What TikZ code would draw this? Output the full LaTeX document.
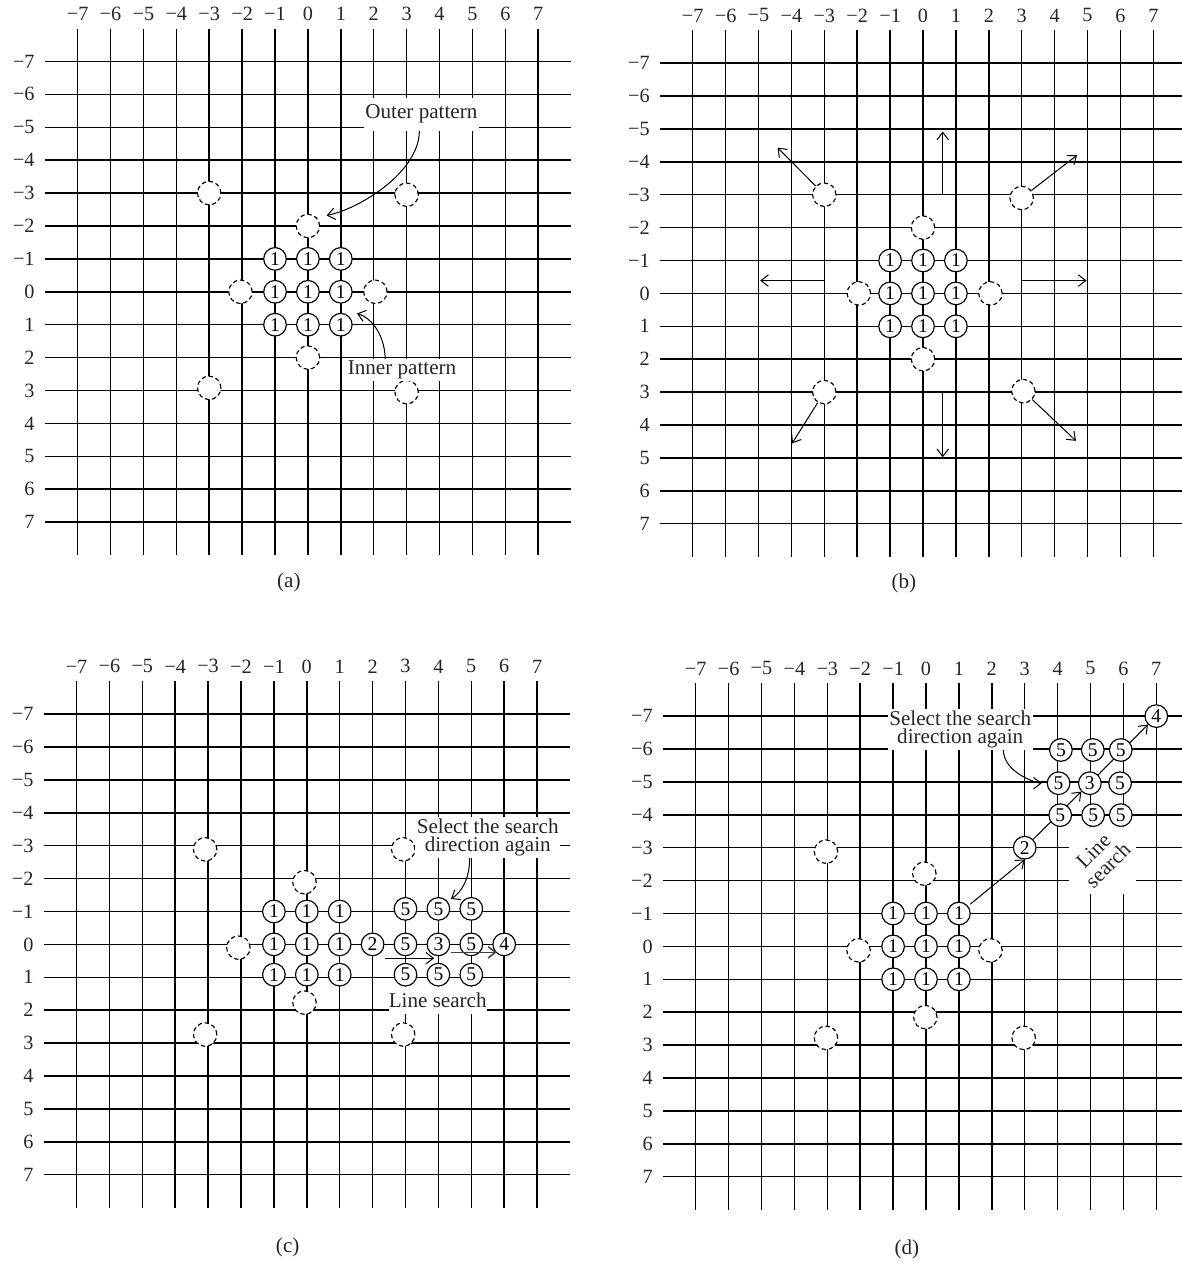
\documentclass[tikz,border=0pt]{standalone}
\usepackage{fontspec}
\setmainfont{Liberation Serif}
\usepackage{graphicx}
\usetikzlibrary{arrows.meta}

\tikzset{
  gridline/.style={line width=1.05pt},
  axlabel/.style={font=\fontsize{14}{15}\selectfont, text=black!85, inner sep=0pt},
  caption/.style={font=\fontsize{14.6}{16}\selectfont, text=black!85},
  innerpt/.style={circle, draw, line width=0.8pt, fill=white, minimum size=0.55cm,
    inner sep=0pt, font=\fontsize{13.5}{14}\selectfont},
  outerpt/.style={circle, draw, line width=0.8pt, dash pattern=on 3pt off 2pt,
    fill=white, minimum size=0.57cm, inner sep=0pt},
  callout/.style={fill=white, inner xsep=1pt, inner ysep=1pt, align=center,
    font=\fontsize{14.6}{12.8}\selectfont, text=black!85},
  pointer/.style={-{Straight Barb[length=1.8mm,width=2.8mm]}, line width=0.7pt},
}

% axis number with a real minus sign
\newcommand{\axnum}[1]{\ifnum#1<0 −\number-#1\else#1\fi}
% grid, axis numbers and caption of one panel
\newcommand{\searchgrid}[3]{%
  \foreach \i in {-7,...,7} {
    \draw[gridline] (\i,-8) -- (\i,8);
    \draw[gridline] (-8,\i) -- (8,\i);
    \node[axlabel] (#1-top\i) at (\i,-8.45) {\axnum{\i}};
    \node[axlabel, anchor=east] (#1-left\i) at (-8.3,\i) {\axnum{\i}};
  }
  \node[caption] (#1-cap) at (-0.58,#3) {#2};
}

\begin{document}
\begin{tikzpicture}[x=0.8cm, y=0.8cm]
  \useasboundingbox (0,0) rectangle (35.927,-38.359);

  % (a) inner and outer pattern
  \begin{scope}[shift={(9.359,-8.869)}, yscale=-1]
    \searchgrid{a}{(a)}{8.83}
    \foreach \x/\y [count=\k] in {-3/-3, 3/-2.95, 0/-2, -2.05/0, 2.05/0, 0/2, -3/2.92, 3/3.05}
      \node[outerpt] (a-out\k) at (\x,\y) {};
    \foreach \x/\y [count=\k] in {-1/-1, 0/-1, 1/-1, -1/0, 0/0, 1/0, -1/1, 0/1, 1/1}
      \node[innerpt] (a-in\k) at (\x,\y) {1};
    \node[callout, inner ysep=5pt] (a-outlbl) at (3.45,-5.4) {Outer pattern};
    \node[callout] (a-inlbl) at (2.86,2.38) {Inner pattern};
    \coordinate (a-outtip) at (0.57,-2.32);
    \coordinate (a-intip) at (1.49,0.66);
    \draw[pointer] ([xshift=-0.05cm]a-outlbl.south) .. controls +(0,1.25) and +(1.0,-0.2) .. (a-outtip);
    \draw[pointer] ([xshift=-0.41cm]a-inlbl.north) .. controls +(0,-0.65) and +(0.5,0.15) .. (a-intip);
  \end{scope}

  % (b) directions of the outer pattern
  \begin{scope}[shift={(28.055,-8.918)}, yscale=-1]
    \searchgrid{b}{(b)}{8.83}
    \foreach \x/\y [count=\k] in {-3/-3, 3/-2.9, 0/-2, -1.95/0, 2.05/0, 0/2, -3/3, 3.05/2.97}
      \node[outerpt] (b-out\k) at (\x,\y) {};
    \foreach \x/\y [count=\k] in {-1/-1, 0/-1, 1/-1, -1/0, 0/0, 1/0, -1/1, 0/1, 1/1}
      \node[innerpt] (b-in\k) at (\x,\y) {1};
    \coordinate (b-n0) at (0.6,-3);    \coordinate (b-n1) at (0.6,-4.92);
    \coordinate (b-s0) at (0.6,3.03);  \coordinate (b-s1) at (0.6,4.98);
    \coordinate (b-w0) at (-3,-0.39);  \coordinate (b-w1) at (-4.95,-0.39);
    \coordinate (b-e0) at (3.02,-0.39); \coordinate (b-e1) at (4.97,-0.39);
    \coordinate (b-nw) at (-4.42,-4.43); \coordinate (b-ne) at (4.68,-4.2);
    \coordinate (b-sw) at (-3.98,4.56);  \coordinate (b-se) at (4.65,4.48);
    \draw[pointer] (b-n0) -- (b-n1);
    \draw[pointer] (b-s0) -- (b-s1);
    \draw[pointer] (b-w0) -- (b-w1);
    \draw[pointer] (b-e0) -- (b-e1);
    \draw[pointer] (b-out1) -- (b-nw);
    \draw[pointer] (b-out2) -- (b-ne);
    \draw[pointer] (b-out7) -- (b-sw);
    \draw[pointer] (b-out8) -- (b-se);
  \end{scope}

  % (c) line search along the x direction
  \begin{scope}[shift={(9.325,-28.705)}, yscale=-1]
    \searchgrid{c}{(c)}{9.2}
    \foreach \x/\y [count=\k] in {-3.09/-2.89, 2.93/-2.89, -0.07/-1.89, -2.08/0.1, -0.07/1.77, -3.09/2.74, 2.93/2.74}
      \node[outerpt] (c-out\k) at (\x,\y) {};
    \foreach \x/\y [count=\k] in {-1/-1, 0/-1, 1/-1, -1/0, 0/0, 1/0, -1/0.92, 0/0.92, 1/0.92}
      \node[innerpt] (c-in\k) at (\x,\y) {1};
    \node[innerpt] (c-two) at (2,0) {2};
    \node[innerpt] (c-three) at (4,0) {3};
    \node[innerpt] (c-four) at (6,0) {4};
    \foreach \x/\y [count=\k] in {3/-1.08, 4/-1.08, 5/-1.08, 3/0, 5/0, 3/0.92, 4/0.92, 5/0.92}
      \node[innerpt] (c-five\k) at (\x,\y) {5};
    \coordinate (c-a0) at (2.39,0.42); \coordinate (c-a1) at (3.87,0.42);
    \coordinate (c-b0) at (4.37,0.24); \coordinate (c-b1) at (5.77,0.24);
    \draw[pointer] (c-a0) -- (c-a1);
    \draw[pointer, line width=1pt, black!75] (c-b0) -- (c-b1);
    \node[callout] (c-sel) at (5.5,-3.25) {Select the search\\direction again};
    \node[callout, inner xsep=0pt, inner ysep=4pt] (c-line) at (3.98,1.71) {Line search};
    \coordinate (c-tip) at (4.38,-1.38);
    \draw[pointer] ([xshift=-0.44cm]c-sel.south) .. controls +(0,0.6) and +(0.35,-0.22) .. (c-tip);
  \end{scope}

  % (d) line search along the diagonal
  \begin{scope}[shift={(28.146,-28.766)}, yscale=-1]
    \searchgrid{d}{(d)}{9.2}
    \foreach \x/\y [count=\k] in {-3.04/-2.88, -0.05/-2.21, -2.05/0.12, 1.96/0.12, -0.02/2.15, -3.04/2.78, 2.97/2.78}
      \node[outerpt] (d-out\k) at (\x,\y) {};
    \foreach \x/\y [count=\k] in {-1/-1, 0/-1, 1/-1, -1/0, 0/0, 1/0, -1/1, 0/1, 1/1}
      \node[innerpt] (d-in\k) at (\x,\y) {1};
    \node[innerpt] (d-two) at (3,-3) {2};
    \node[innerpt] (d-three) at (4.98,-4.96) {3};
    \node[innerpt] (d-four) at (7,-7) {4};
    \draw[pointer, shorten <=2pt] (d-in3) -- (d-two.south);
    \draw[pointer] (d-two) -- (d-three);
    \draw[pointer] (d-three) -- (d-four);
    \foreach \x/\y [count=\k] in {4.1/-5.97, 5.07/-5.97, 5.92/-5.97, 4.03/-4.96, 5.9/-4.96, 4.08/-3.99, 5.08/-3.99, 5.92/-3.99}
      \node[innerpt] (d-five\k) at (\x,\y) {5};
    \node[callout] (d-sel) at (1.04,-6.6) {Select the search\\direction again};
    \node[callout, inner sep=0pt, font=\fontsize{14.6}{13.5}\selectfont] (d-line) at (5.37,-2.62)
      {\rotatebox{45}{\begin{tabular}{@{}c@{}}Line\\search\end{tabular}}};
    \draw[pointer, shorten >=0.12cm] ([xshift=1.05cm]d-sel.south) .. controls +(0,0.7) and +(-0.65,0) .. (d-five4);
  \end{scope}
\end{tikzpicture}
\end{document}
